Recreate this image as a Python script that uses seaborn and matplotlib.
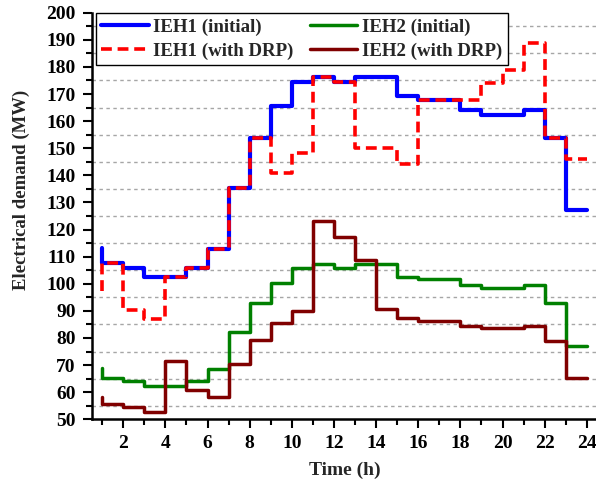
import numpy as np
import pandas as pd
import matplotlib
matplotlib.use("Agg")
import matplotlib.pyplot as plt
from matplotlib.ticker import MultipleLocator
import seaborn as sns

# Hourly electrical demand (MW) of the two energy hubs
hours = list(range(1, 25))
ieh1_initial = [113.3, 107.8, 105.7, 102.4, 102.4, 105.7, 112.8, 135.2, 153.7, 165.6, 174.5, 176.4,
                174.5, 176.4, 176.4, 169.3, 167.8, 167.8, 164.1, 162.3, 162.3, 164.1, 153.7, 127.2]
ieh1_drp = [97.5, 107.8, 90.3, 87.1, 102.4, 105.7, 112.8, 135.2, 153.7, 141.0, 148.4, 176.4,
            174.5, 150.0, 150.0, 144.1, 167.8, 167.8, 167.8, 174.0, 178.9, 188.7, 153.7, 145.9]
ieh2_initial = [68.8, 65.2, 64.1, 62.3, 62.3, 64.1, 68.6, 82.3, 93.0, 100.4, 105.7, 107.2,
                105.7, 107.2, 107.2, 102.6, 101.6, 101.6, 99.5, 98.3, 98.3, 99.5, 93.0, 77.2]
ieh2_drp = [58.3, 55.6, 54.6, 52.8, 71.5, 60.8, 58.1, 70.3, 79.3, 85.4, 90.1, 123.1,
            117.4, 108.8, 90.7, 87.5, 86.4, 86.4, 84.4, 83.6, 83.6, 84.4, 78.9, 65.4]

labels = ["IEH1 (initial)", "IEH1 (with DRP)", "IEH2 (initial)", "IEH2 (with DRP)"]
series = [ieh1_initial, ieh1_drp, ieh2_initial, ieh2_drp]
colors = ["#0000FF", "#FF0000", "#008000", "#800000"]
widths = [3.0, 2.6, 2.5, 2.5]
styles = ["-", (0, (3, 1.6)), "-", "-"]

sns.set_style("ticks")
plt.rcParams["font.family"] = ["Liberation Serif", "DejaVu Serif"]
plt.rcParams["font.weight"] = "bold"

fig = plt.figure(figsize=(5.96, 4.92), dpi=100)
ax = fig.add_axes([0.1538, 0.1478, 0.8484, 0.8264])

df = pd.DataFrame({"hour": hours})
handles = []
for lab, vals, col, lw, ls in zip(labels, series, colors, widths, styles):
    df[lab] = vals
    sns.lineplot(data=df, x="hour", y=lab, ax=ax, color=col, linewidth=lw,
                 linestyle=ls, drawstyle="steps-pre", label=lab, legend=False)
    handles.append(ax.lines[-1])

ax.set_xlim(0.5, 24.5)
ax.set_ylim(50, 200)
ax.xaxis.set_major_locator(MultipleLocator(2))
ax.xaxis.set_minor_locator(MultipleLocator(1))
ax.yaxis.set_major_locator(MultipleLocator(10))
ax.yaxis.set_minor_locator(MultipleLocator(5))
ax.set_xticks([2, 4, 6, 8, 10, 12, 14, 16, 18, 20, 22, 24])

# dashed grid on the half-decade minor ticks
for v in np.arange(55, 200, 10):
    ax.axhline(v, color="#a6a6a6", linewidth=1.0, linestyle=(0, (2.5, 2.5)), zorder=0)

for side in ("top", "right"):
    ax.spines[side].set_visible(False)
for side in ("left", "bottom"):
    ax.spines[side].set_linewidth(1.8)
    ax.spines[side].set_color("black")

ax.tick_params(axis="both", which="major", direction="out", length=6.5, width=1.5,
               labelsize=14, pad=5, colors="black")
ax.tick_params(axis="both", which="minor", direction="out", length=4, width=1.5, colors="black")
for t in ax.get_xticklabels() + ax.get_yticklabels():
    t.set_fontweight("bold")

ax.set_xlabel("Time (h)", fontsize=14, fontweight="bold")
ax.set_ylabel("Electrical demand (MW)", fontsize=13.5, fontweight="bold")
ax.xaxis.set_label_coords(0.5, -0.105)
ax.xaxis.label.set_va("top")
ax.yaxis.set_label_coords(-0.121, 0.564)

leg = ax.legend(handles=handles, labels=labels, ncol=2, loc="upper left",
                bbox_to_anchor=(0.008, 1.0), borderaxespad=0, frameon=True,
                fancybox=False, framealpha=1, edgecolor="black",
                prop={"family": "Liberation Serif", "weight": "bold", "size": 13.6},
                handlelength=2.5, handletextpad=0.25, columnspacing=0.85,
                labelspacing=0.35, borderpad=0.3)
leg.get_frame().set_linewidth(1.0)

fig.savefig("out.png", dpi=100)
